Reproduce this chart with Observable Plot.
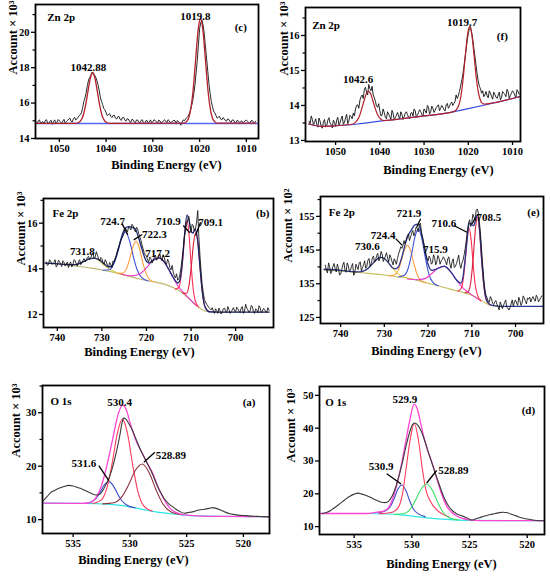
<!DOCTYPE html>
<html><head><meta charset="utf-8">
<script src="https://cdn.jsdelivr.net/npm/d3@7"></script>
<script src="https://cdn.jsdelivr.net/npm/@observablehq/plot@0.6"></script>
<style>
body{margin:0;background:#fff;}
#fig{position:relative;width:550px;height:576px;overflow:hidden;background:#fff;}
#fig svg{position:absolute;}
</style></head><body><div id="fig"></div>
<script>
// ---------- tick values ----------
const xTicksZn = [1050,1040,1030,1020,1010];
const xTicksFe = [740,730,720,710,700];
const xTicksO = [535,530,525,520];
const yTicksC = [14,16,18,20], yMinorC = [15,17,19,21];
const yTicksF = [13,14,15,16], yMinorF = [13.5,14.5,15.5,16.5];
const yTicksB = [12,14,16], yMinorB = [13,15,17];
const yTicksE = [125,135,145,155], yMinorE = [130,140,150,160];
const yTicksA = [10,20,30], yMinorA = [15,25,35];
const yTicksD = [10,20,30,40,50];

// ---------- panel (c) Zn 2p ----------
const znC_E = [1055,1054.5,1054,1053.5,1053,1052.5,1052,1051.5,1051,1050.5,1050,1049.5,1049,1048.5,1048,1047.5,1047,1046.5,1046,1045.5,1045,1044.5,1044,1043.5,1043,1042.5,1042,1041.5,1041,1040.5,1040,1039.5,1039,1038.5,1038,1037.5,1037,1036.5,1036,1035.5,1035,1034.5,1034,1033.5,1033,1032.5,1032,1031.5,1031,1030.5,1030,1029.5,1029,1028.5,1028,1027.5,1027,1026.5,1026,1025.5,1025,1024.5,1024,1023.5,1023,1022.5,1022,1021.5,1021,1020.5,1020,1019.5,1019,1018.5,1018,1017.5,1017,1016.5,1016,1015.5,1015,1014.5,1014,1013.5,1013,1012.5,1012,1011.5,1011,1010.5,1010,1009.5,1009,1008.5,1008];
const znC_I = [14.90,15.00,14.85,14.95,15.02,14.88,14.98,14.80,15.05,14.92,15.00,14.85,15.08,14.95,15.10,14.98,15.12,15.05,15.20,15.35,15.75,16.30,17.00,17.45,17.75,17.60,17.30,16.75,16.10,15.70,15.45,15.35,15.25,15.30,15.15,15.22,15.08,15.18,15.05,15.12,14.98,15.08,14.95,15.05,14.92,15.02,14.90,15.00,14.88,15.05,14.95,15.02,14.88,15.00,14.92,15.06,14.90,15.00,14.94,15.03,14.85,14.95,14.75,15.05,15.10,15.25,15.55,16.10,17.00,18.40,20.20,20.70,19.90,18.50,17.10,16.10,15.55,15.30,15.20,15.10,15.18,15.02,15.10,14.96,15.05,14.92,15.02,14.90,15.00,14.95,15.04,14.90,15.00,14.92,14.98];
const znCm_E = [1054.75,1054.25,1053.75,1053.25,1052.75,1052.25,1051.75,1051.25,1050.75,1050.25,
  1049.75,1049.25,1048.75,1048.25,1047.75,1047.25,1046.75,1046.25,1045.75,1045.25,
  1044.75,1044.25,1043.75,1043.25,1042.75,1042.25,1041.75,1041.25,1040.75,1040.25,
  1039.75,1039.25,1038.75,1038.25,1037.75,1037.25,1036.75,1036.25,1035.75,1035.25,
  1034.75,1034.25,1033.75,1033.25,1032.75,1032.25,1031.75,1031.25,1030.75,1030.25,
  1029.75,1029.25,1028.75,1028.25,1027.75,1027.25,1026.75,1026.25,1025.75,1025.25,
  1024.75,1024.25,1023.75,1023.25,1022.75,1022.25,1021.75,1021.25,1020.75,1020.25,
  1019.75,1019.25,1018.75,1018.25,1017.75,1017.25,1016.75,1016.25,1015.75,1015.25,
  1014.75,1014.25,1013.75,1013.25,1012.75,1012.25,1011.75,1011.25,1010.75,1010.25,
  1009.75,1009.25,1008.75,1008.25];
const znCm_I = [14.82,15.05,14.92,14.84,15.06,14.86,15.03,14.95,14.86,15.07,
  14.94,14.98,14.86,15.02,15.15,14.92,15.20,15.10,15.30,15.48,
  16.10,16.62,17.30,17.58,17.72,17.48,17.05,16.35,15.92,15.62,
  15.30,15.40,15.18,15.32,15.10,15.25,15.02,15.20,14.98,15.10,
  14.90,15.06,14.88,15.04,14.86,15.06,14.84,15.02,14.94,14.88,
  15.06,14.96,15.04,14.86,15.00,14.98,15.06,14.88,14.98,15.00,
  15.02,14.90,14.92,15.00,15.18,15.38,15.80,16.50,17.70,19.30,
  20.55,20.40,19.20,17.80,16.55,15.80,15.45,15.15,15.25,15.05,
  15.12,14.98,15.08,14.92,15.04,14.88,15.00,14.95,14.88,15.00,
  14.97,14.86,15.02,14.90];
const znCfit_E = [1055,1046.38,1045.88,1045.38,1044.88,1044.38,1043.88,1043.38,1042.88,1042.38,1041.88,1041.38,1040.88,1040.38,1039.88,1039.38,1023.3,1022.8,1022.3,1021.8,1021.3,1020.8,1020.3,1019.8,1019.3,1018.8,1018.3,1017.8,1017.3,1016.8,1016.3,1008];
const znCfit_I = [14.86,14.86,14.90,15.02,15.31,15.88,16.66,17.40,17.70,17.40,16.66,15.88,15.31,15.02,14.90,14.86,14.87,14.95,15.19,15.81,16.98,18.62,20.15,20.78,20.15,18.62,16.98,15.81,15.19,14.95,14.87,14.87];
const znCbase_E = [1055.1,1007.6];
const znCbase_I = [14.85,14.85];
const annC_text = ["Zn 2p","(c)","1042.88","1019.8"];
const annC_E = [1052.6,1011.2,1043.8,1020.9];
const annC_V = [20.86,20.29,18.0,20.9];

// ---------- panel (f) Zn 2p ----------
const znF_E = [1056,1055.5,1055,1054.5,1054,1053.5,1053,1052.5,1052,1051.5,1051,1050.5,1050,1049.5,1049,1048.5,1048,1047.5,1047,1046.5,1046,1045.5,1045,1044.5,1044,1043.5,1043,1042.5,1042,1041.5,1041,1040.5,1040,1039.5,1039,1038.5,1038,1037.5,1037,1036.5,1036,1035.5,1035,1034.5,1034,1033.5,1033,1032.5,1032,1031.5,1031,1030.5,1030,1029.5,1029,1028.5,1028,1027.5,1027,1026.5,1026,1025.5,1025,1024.5,1024,1023.5,1023,1022.5,1022,1021.5,1021,1020.5,1020,1019.5,1019,1018.5,1018,1017.5,1017,1016.5,1016,1015.5,1015,1014.5,1014,1013.5,1013,1012.5,1012,1011.5,1011,1010.5,1010,1009.5,1009,1008.5];
const znF_I = [13.55,13.70,13.45,13.62,13.38,13.55,13.35,13.60,13.42,13.65,13.45,13.58,13.40,13.66,13.50,13.70,13.52,13.75,13.55,13.68,13.78,13.90,14.02,14.15,14.30,14.45,14.38,14.60,14.42,14.30,14.12,13.95,13.85,13.72,13.80,13.62,13.75,13.60,13.78,13.65,13.80,13.62,13.74,13.68,13.82,13.66,13.78,13.70,13.85,13.72,13.88,13.75,13.90,13.78,13.95,13.82,13.92,13.86,13.98,13.85,14.00,13.88,14.02,13.92,14.05,14.00,14.12,14.20,14.40,14.70,15.10,15.60,16.05,16.25,15.90,15.40,14.90,14.55,14.35,14.25,14.40,14.22,14.35,14.18,14.32,14.20,14.38,14.22,14.35,14.25,14.40,14.28,14.42,14.30,14.45,14.32];
const znFm_E = [1055.75,1055.25,1054.75,1054.25,1053.75,1053.25,1052.75,1052.25,1051.75,1051.25,
  1050.75,1050.25,1049.75,1049.25,1048.75,1048.25,1047.75,1047.25,1046.75,1046.25,
  1045.75,1045.25,1044.75,1044.25,1043.75,1043.25,1042.75,1042.25,1041.75,1041.25,
  1040.75,1040.25,1039.75,1039.25,1038.75,1038.25,1037.75,1037.25,1036.75,1036.25,
  1035.75,1035.25,1034.75,1034.25,1033.75,1033.25,1032.75,1032.25,1031.75,1031.25,
  1030.75,1030.25,1029.75,1029.25,1028.75,1028.25,1027.75,1027.25,1026.75,1026.25,
  1025.75,1025.25,1024.75,1024.25,1023.75,1023.25,1022.75,1022.25,1021.75,1021.25,
  1020.75,1020.25,1019.75,1019.25,1018.75,1018.25,1017.75,1017.25,1016.75,1016.25,
  1015.75,1015.25,1014.75,1014.25,1013.75,1013.25,1012.75,1012.25,1011.75,1011.25,
  1010.75,1010.25,1009.75,1009.25,1008.75];
const znFm_I = [13.48,13.60,13.52,13.46,13.64,13.40,13.52,13.38,13.58,13.50,
  13.36,13.52,13.58,13.44,13.62,13.46,13.64,13.48,13.72,13.62,
  13.70,14.00,13.92,14.25,14.20,14.52,14.30,14.48,14.55,14.22,
  13.98,14.05,13.70,13.90,13.66,13.82,13.68,13.86,13.58,13.72,
  13.70,13.82,13.60,13.78,13.74,13.62,13.80,13.90,13.66,13.80,
  13.82,13.70,13.85,14.00,13.76,13.98,13.80,13.94,14.02,13.92,
  13.95,13.84,14.06,13.98,14.10,14.06,14.30,14.28,14.55,14.88,
  15.35,15.85,16.20,16.10,15.65,15.15,14.70,14.48,14.42,14.30,
  14.28,14.42,14.26,14.38,14.24,14.30,14.16,14.40,14.32,14.46,
  14.20,14.35,14.38,14.22,14.40];
const znFfit_E = [1056.1,1053,1050,1046.1,1045.6,1045.1,1044.6,1044.1,1043.6,1043.1,1042.6,1042.1,1041.6,1041.1,1040.6,1040.1,1039.6,1039.1,1035,1030,1025,1023.2,1022.7,1022.2,1021.7,1021.2,1020.7,1020.2,1019.7,1019.2,1018.7,1018.2,1017.7,1017.2,1016.7,1016.2,1015,1010,1008.2];
const znFfit_I = [13.47,13.40,13.42,13.47,13.51,13.58,13.70,13.90,14.12,14.32,14.40,14.34,14.15,13.94,13.76,13.65,13.59,13.57,13.62,13.70,13.78,13.83,13.88,13.99,14.24,14.72,15.38,16.00,16.26,16.02,15.44,14.80,14.36,14.13,14.05,14.04,14.06,14.20,14.26];
const znFbase_E = [1056.1,1053,1050,1045,1040,1035,1030,1025,1020,1015,1010,1008.2];
const znFbase_I = [13.47,13.40,13.42,13.47,13.55,13.62,13.70,13.78,13.91,14.05,14.20,14.26];
const annF_text = ["Zn 2p","(f)","1042.6","1019.7"];
const annF_E = [1055.3,1012.3,1044.9,1021.4];
const annF_V = [16.29,15.97,14.73,16.38];

// ---------- panel (b) Fe 2p ----------
const feB_E = [742.5,742,741.5,741,740.5,740,739.5,739,738.5,738,737.5,737,736.5,736,735.5,735,734.5,734,733.5,733,732.5,732,731.5,731,730.5,730,729.5,729,728.5,728,727.5,727,726.5,726,725.5,725,724.5,724,723.5,723,722.5,722,721.5,721,720.5,720,719.5,719,718.5,718,717.5,717,716.5,716,715.5,715,714.5,714,713.5,713,712.5,712,711.5,711,710.5,710,709.5,709,708.5,708,707.5,707,706.5,706,705.5,705,704.5,704,703.5,703,702.5,702,701.5,701,700.5,700,699.5,699,698.5,698,697.5,697,696.5,696,695.5,695,694.5,694,693.5,693,692.5];
const feB_I = [14.30,14.18,14.35,14.22,14.40,14.15,14.32,14.10,14.28,14.20,14.05,14.30,14.18,14.35,14.12,14.40,14.25,14.45,14.38,14.55,14.48,14.70,14.52,14.60,14.35,14.45,14.20,14.30,14.10,14.18,14.35,14.48,14.80,15.10,15.35,15.60,15.72,15.85,15.70,15.88,15.62,15.75,15.40,15.05,14.70,14.55,14.30,14.45,14.35,14.60,14.42,14.65,14.35,14.50,14.20,14.30,13.95,13.85,13.60,13.50,13.75,14.45,15.40,15.95,16.30,15.60,15.90,15.75,16.55,14.60,13.30,12.65,12.45,12.30,12.20,12.15,12.25,12.05,12.18,12.10,12.28,12.08,12.22,12.12,12.30,12.10,12.25,12.08,12.35,12.15,12.28,12.10,12.40,12.12,12.25,12.08,12.30,12.15,12.22,12.10,12.18];
const feBm_E = [742.25,741.75,741.25,740.75,740.25,739.75,739.25,738.75,738.25,737.75,
  737.25,736.75,736.25,735.75,735.25,734.75,734.25,733.75,733.25,732.75,
  732.25,731.75,731.25,730.75,730.25,729.75,729.25,728.75,728.25,727.75,
  727.25,726.75,726.25,725.75,725.25,724.75,724.25,723.75,723.25,722.75,
  722.25,721.75,721.25,720.75,720.25,719.75,719.25,718.75,718.25,717.75,
  717.25,716.75,716.25,715.75,715.25,714.75,714.25,713.75,713.25,712.75,
  712.25,711.75,711.25,710.75,710.25,709.75,709.25,708.75,708.25,707.75,
  707.25,706.75,706.25,705.75,705.25,704.75,704.25,703.75,703.25,702.75,
  702.25,701.75,701.25,700.75,700.25,699.75,699.25,698.75,698.25,697.75,
  697.25,696.75,696.25,695.75,695.25,694.75,694.25,693.75,693.25,692.75];
const feBm_I = [14.15,14.40,14.20,14.28,14.08,14.38,14.20,14.35,14.12,14.30,
  14.22,14.08,14.40,14.22,14.30,14.18,14.36,14.30,14.50,14.40,
  14.62,14.45,14.75,14.45,14.50,14.28,14.40,14.15,14.28,14.05,
  14.30,14.60,14.95,15.28,15.45,15.80,15.62,15.78,15.95,15.72,
  15.82,15.55,15.25,14.88,14.62,14.40,14.52,14.25,14.50,14.38,
  14.55,14.48,14.62,14.25,14.42,14.05,14.15,13.70,13.78,13.55,
  14.05,14.85,15.70,16.15,15.90,15.95,15.65,16.05,15.40,13.90,
  12.95,12.55,12.38,12.25,12.30,12.05,12.18,12.28,12.02,12.25,
  12.15,12.35,12.05,12.20,12.18,12.32,12.15,12.28,12.05,12.45,
  12.20,12.15,12.35,12.05,12.20,12.38,12.08,12.26,12.12,12.30];
const feBbg_E = [742.7,740,738,736,734,732,730,728,726,724,722,720,718,716,714,712,711,710,709,708,707,706,704,692.5];
const feBbg_I = [14.26,14.22,14.18,14.13,14.08,14.02,13.95,13.87,13.78,13.68,13.58,13.49,13.42,13.33,13.18,12.95,12.78,12.60,12.42,12.27,12.16,12.12,12.10,12.10];
const feBenv_E = [742.7,740,738,736,734.5,733,731.8,730.5,729.5,728.5,727.8,727,726.2,725.5,724.8,724,723.2,722.5,721.8,721,720.2,719.4,718.5,717.2,716,715,714,713,712.5,712,711.5,710.9,710.45,710,709.55,709.1,708.5,708,707.5,707,706.5,706,704,692.5];
const feBenv_I = [14.25,14.22,14.19,14.18,14.28,14.42,14.47,14.38,14.22,14.08,14.12,14.42,14.95,15.45,15.78,15.85,15.82,15.74,15.38,14.85,14.40,14.25,14.38,14.48,14.30,13.97,13.62,13.38,13.50,14.19,15.39,16.35,16.12,15.64,15.57,15.74,15.21,14.10,13.04,12.42,12.20,12.12,12.10,12.10];
const feB731_E = [738.8,736.8,735.4,734.2,733.0,731.8,730.6,729.4,728.2,726.8,724.8];
const feB731_I = [14.20,14.17,14.20,14.30,14.43,14.46,14.35,14.14,13.97,13.84,13.72];
const feB724_E = [729.78,728.33,727.31,726.44,725.57,724.7,723.83,722.96,722.09,721.07,719.62];
const feB724_I = [13.94,13.96,14.22,14.73,15.34,15.61,15.25,14.55,13.96,13.61,13.47];
const feB722_E = [726.5,725.3,724.46,723.74,723.02,722.3,721.58,720.86,720.14,719.3,718.1];
const feB722_I = [13.80,13.81,14.02,14.45,14.97,15.20,14.90,14.31,13.82,13.53,13.42];
const feB717_E = [725.6,723.2,721.52,720.08,718.64,717.2,715.76,714.32,712.88,711.2,708.8];
const feB717_I = [13.76,13.69,13.78,14.03,14.36,14.48,14.23,13.74,13.23,12.86,12.39];
const feB710_E = [713.53,712.78,712.25,711.8,711.35,710.9,710.45,710.0,709.55,709.03,708.28];
const feB710_I = [13.11,13.17,13.64,14.54,15.64,16.11,15.48,14.23,13.18,12.58,12.32];
const feB709_E = [711.88,711.03,710.43,709.92,709.41,708.9,708.39,707.88,707.37,706.77,705.92];
const feB709_I = [12.94,12.93,13.31,14.15,15.17,15.61,15.00,13.82,12.82,12.29,12.13];
const annB_text = ["Fe 2p","(b)","731.8","724.7","722.3","717.2","710.9","709.1"];
const annB_E = [741.1,693.9,734.4,727.6,718.2,717.5,715.06,705.6];
const annB_V = [16.42,16.42,14.76,16.07,15.5,14.67,16.07,16.03];
const leadB_x1 = [725.46,720.97,711.75,707.87], leadB_y1 = [15.97,15.5,15.9,16.04];
const leadB_x2 = [724.2,722.85,710.27,708.99], leadB_y2 = [15.5,15.27,15.58,15.46];

// ---------- panel (e) Fe 2p ----------
const feE_E = [743.5,743,742.5,742,741.5,741,740.5,740,739.5,739,738.5,738,737.5,737,736.5,736,735.5,735,734.5,734,733.5,733,732.5,732,731.5,731,730.5,730,729.5,729,728.5,728,727.5,727,726.5,726,725.5,725,724.5,724,723.5,723,722.5,722,721.5,721,720.5,720,719.5,719,718.5,718,717.5,717,716.5,716,715.5,715,714.5,714,713.5,713,712.5,712,711.5,711,710.5,710,709.5,709,708.5,708,707.5,707,706.5,706,705.5,705,704.5,704,703.5,703,702.5,702,701.5,701,700.5,700,699.5,699,698.5,698,697.5,697,696.5,696,695.5,695,694.5,694];
const feE_I = [140.5,138.2,140.0,138.8,141.0,138.5,139.8,137.8,140.6,139.0,141.2,138.6,140.2,137.5,140.8,139.2,141.5,139.8,141.8,140.2,142.5,141.0,143.2,142.0,144.0,142.6,143.8,142.4,144.2,141.5,142.8,140.6,141.8,142.5,144.8,145.5,147.8,148.2,149.8,148.9,150.8,150.2,151.5,152.3,150.0,147.2,144.0,141.8,142.5,141.2,142.8,141.5,142.6,141.8,143.0,141.6,142.4,140.8,141.6,139.8,141.0,143.5,139.6,142.0,145.5,151.0,154.0,153.2,154.8,156.8,156.0,149.5,140.5,133.2,130.8,129.5,130.6,128.8,130.0,128.2,129.6,127.6,129.4,128.0,127.2,129.0,128.4,130.2,128.6,130.0,129.2,130.8,129.0,130.4,129.6,131.2,129.8,131.0,130.2,131.4];
const feEm_E = [743.25,742.75,742.25,741.75,741.25,740.75,740.25,739.75,739.25,738.75,
  738.25,737.75,737.25,736.75,736.25,735.75,735.25,734.75,734.25,733.75,
  733.25,732.75,732.25,731.75,731.25,730.75,730.25,729.75,729.25,728.75,
  728.25,727.75,727.25,726.75,726.25,725.75,725.25,724.75,724.25,723.75,
  723.25,722.75,722.25,721.75,721.25,720.75,720.25,719.75,719.25,718.75,
  718.25,717.75,717.25,716.75,716.25,715.75,715.25,714.75,714.25,713.75,
  713.25,712.75,712.25,711.75,711.25,710.75,710.25,709.75,709.25,708.75,
  708.25,707.75,707.25,706.75,706.25,705.75,705.25,704.75,704.25,703.75,
  703.25,702.75,702.25,701.75,701.25,700.75,700.25,699.75,699.25,698.75,
  698.25,697.75,697.25,696.75,696.25,695.75,695.25,694.75,694.25];
const feEm_I = [139.0,141.2,138.0,140.2,139.5,140.8,137.6,139.2,141.4,138.4,
  140.4,139.0,141.0,138.2,140.0,141.2,138.8,140.6,139.6,142.0,
  140.2,142.6,141.4,143.4,141.8,144.6,141.6,143.2,142.6,143.6,
  141.6,142.4,140.8,143.8,146.0,146.4,146.8,149.2,147.8,150.0,
  149.2,151.8,150.4,153.0,148.6,145.8,142.6,143.2,140.8,143.6,
  140.6,143.4,140.8,142.2,142.4,140.6,143.0,139.6,142.4,140.2,
  142.2,140.8,141.2,143.6,148.0,153.0,152.0,155.6,153.8,157.2,
  153.2,145.0,136.2,131.5,129.8,131.2,129.2,129.6,128.9,127.2,
  128.8,128.6,130.2,127.8,128.0,130.2,129.6,129.2,131.0,128.6,
  131.4,129.8,130.8,131.0,130.6,130.4,131.6,129.6,130.8];
const feEbg_E = [743.8,740,736.6,733,730,727,724,721,718,715,712,710,708.5,707,706,705,703];
const feEbg_I = [139.0,138.8,138.4,138.0,137.6,137.1,136.5,135.5,134.5,133.4,132.4,131.6,130.6,129.4,128.7,128.4,128.2];
const feEenv_E = [743.8,740,737.5,736,735,734,733,732,731,730,729,728.2,727.5,726.8,726,725.2,724.5,723.8,723,722.2,721.4,720.6,720,719.2,718,716.3,714.5,713.5,712.5,712,711.5,711,710.6,710.1,709.6,709.2,708.7,708.2,707.7,707.2,706.7,706,705,703,693.8];
const feEenv_I = [139.3,139.0,138.6,138.5,138.7,139.3,140.5,141.9,142.8,142.5,141.1,139.8,139.4,140.0,142.9,146.9,149.5,151.0,152.5,152.7,149.4,143.9,140.8,139.0,139.4,140.2,138.0,136.1,135.2,137.1,142.6,149.0,152.9,152.7,152.2,153.6,155.5,151.0,141.8,134.5,130.4,129.0,128.5,128.3,128.3];
const feE730_E = [737.6,735.6,734.2,733.0,731.8,730.6,729.4,728.2,727.0,725.6,723.6];
const feE730_I = [138.5,138.5,139.1,140.5,142.1,142.8,141.7,139.7,138.1,137.0,136.4];
const feE724_E = [728.9,727.7,726.86,726.14,725.42,724.7,723.98,723.26,722.54,721.7,720.5];
const feE724_I = [137.3,137.6,138.9,141.7,145.0,146.4,144.7,141.1,137.9,136.1,135.3];
const feE721_E = [726.75,725.45,724.54,723.76,722.98,722.2,721.42,720.64,719.86,718.95,717.65];
const feE721_I = [137.0,137.5,139.6,143.9,149.0,151.3,148.4,142.8,138.1,135.5,134.4];
const feE715_E = [724.7,722.3,720.62,719.18,717.74,716.3,714.86,713.42,711.98,710.3,707.9];
const feE715_I = [136.4,136.2,136.6,138.0,139.7,140.2,138.7,136.0,133.7,132.0,129.9];
const feE710_E = [713.23,712.48,711.95,711.5,711.05,710.6,710.15,709.7,709.25,708.73,707.98];
const feE710_I = [132.8,133.5,136.3,141.8,148.5,151.5,148.1,141.0,135.0,131.7,130.0];
const feE708_E = [711.5,710.7,710.14,709.66,709.18,708.7,708.22,707.74,707.26,706.7,705.9];
const feE708_I = [132.3,132.9,136.4,143.0,151.1,154.8,150.4,141.6,134.4,130.2,128.8];
const annE_text = ["Fe 2p","(e)","721.9","724.4","730.6","715.9","710.6","708.5"];
const annE_E = [742.7,695.9,724.4,730.25,733.9,718.3,716.4,706.1];
const annE_V = [156.3,156.3,155.8,149.4,146.1,145.2,153.0,154.8];
const leadE_x1 = [721.7,727.4,714.1,709.2], leadE_y1 = [154.3,148.4,152.3,154.6];
const leadE_x2 = [722.6,725.9,711.1,709.9], leadE_y2 = [151.8,146.4,150.3,152.8];

// ---------- panel (a) O 1s ----------
const oA_E = [537.7,537.3,537.0,536.6,536.2,535.8,535.4,535.0,534.6,534.2,533.8,533.4,533.0,532.7,532.4,532.1,531.8,531.5,531.2,530.9,530.7,530.55,530.35,530.1,529.8,529.5,529.1,528.7,528.4,528.0,527.6,527.3,527.0,526.6,526.1,525.6,525.2,524.9,524.4,523.9,523.4,523.0,522.7,522.4,522.0,521.6,521.2,520.8,520.3,519.8,519.3,518.8,518.3,517.7];
const oA_I = [13.4,14.3,15.0,15.5,15.9,16.2,16.4,16.3,16.0,15.7,15.3,14.9,14.6,14.7,15.4,16.6,18.0,20.0,22.6,25.6,28.0,29.0,28.8,28.0,26.8,25.3,23.2,21.5,20.2,18.5,16.4,15.1,14.0,13.0,12.2,11.5,11.2,11.3,11.5,11.8,11.95,12.1,12.25,12.1,11.8,11.4,11.1,10.95,10.8,10.75,10.65,10.6,10.55,10.5];
const oAbg_E = [537.7,534.4,533,532,531,530,529,528,527,526,525,524,522,517.7];
const oAbg_I = [13.1,13.02,12.98,12.9,12.7,12.4,11.95,11.55,11.25,11.0,10.8,10.7,10.6,10.55];
const oA531_E = [534.17,533.51,533.05,532.65,532.26,531.86,531.46,531.07,530.67,530.21,529.55];
const oA531_I = [13.02,13.19,13.82,15.01,16.45,17.10,16.32,14.77,13.44,12.65,12.21];
const oA530_E = [533.28,532.53,532.0,531.55,531.1,530.65,530.2,529.75,529.3,528.78,528.03];
const oA530_I = [13.02,13.65,16.11,20.7,26.25,28.8,25.99,20.18,15.3,12.57,11.59];
const oA528_E = [532.4,531.4,530.7,530.1,529.5,528.9,528.3,527.7,527.1,526.4,525.4];
const oA528_I = [12.95,13.15,14.29,16.57,19.28,20.41,18.77,15.6,12.96,11.47,10.9];
const oAenv_E = [537.7,535,534,533.5,533,532.5,532,531.5,531,530.65,530.3,530,529.5,529,528.5,528,527.5,527,526.5,526,525,522,517.7];
const oAenv_I = [13.1,13.04,13.03,13.19,14.05,16.36,20.32,25.26,29.98,31.43,30.47,28.25,25.0,22.8,20.7,18.7,16.0,13.8,12.2,11.4,10.85,10.6,10.55];
const annA_text = ["O 1s","(a)","530.4","531.6","528.89"];
const annA_E = [537.0,519.5,530.9,534.06,526.4];
const annA_V = [32.2,32.0,32.0,20.43,22.0];
const leadA_x1 = [532.74,527.8], leadA_y1 = [20.1,22.6];
const leadA_x2 = [531.86,528.77], leadA_y2 = [17.3,20.73];

// ---------- panel (d) O 1s ----------
const oD_E = [537.8,537.4,537.0,536.6,536.2,535.8,535.4,535.0,534.7,534.3,533.9,533.5,533.1,532.7,532.3,532.0,531.7,531.4,531.1,530.8,530.5,530.2,529.95,529.75,529.5,529.2,528.9,528.6,528.3,528.0,527.6,527.2,526.8,526.4,526.0,525.6,525.2,524.8,524.5,524.0,523.5,523.0,522.5,522.1,521.7,521.3,520.9,520.5,520.0,519.5,519.0,518.6];
const oD_I = [14.0,14.3,15.0,16.0,17.1,18.2,19.2,19.9,20.2,19.9,19.4,18.8,18.1,17.5,17.3,17.8,19.3,22.0,25.6,29.8,34.5,38.6,41.0,41.6,41.0,39.2,36.4,33.0,29.8,26.6,22.6,18.8,16.2,14.6,13.7,13.2,12.6,12.0,12.3,12.9,13.4,13.8,14.2,14.4,14.2,13.7,13.2,12.7,12.3,12.0,11.8,11.8];
const oDbg_E = [538,534,532,531,530,529,528,527,526,525,518.5];
const oDbg_I = [14.0,14.0,13.85,13.6,13.2,12.8,12.45,12.2,12.0,11.9,11.8];
const oD530_E = [532.9,532.32,531.91,531.57,531.22,530.87,530.52,530.17,529.83,529.42,528.84];
const oD530_I = [14.2,14.75,15.9,18.18,21.29,22.7,21.05,17.73,15.2,13.87,13.04];
const oD529_E = [532.78,531.78,531.18,530.78,530.5,530.13,529.78,529.43,529.06,528.78,528.38,527.78,526.78];
const oD529_I = [13.95,14.3,15.8,20.5,27.55,36.75,41.41,36.47,26.97,21.22,17.68,14.94,13.01];
const oD528_E = [531.51,530.71,530.15,529.67,529.19,528.71,528.23,527.75,527.27,526.71,525.91];
const oD528_I = [13.74,13.93,15.3,18.09,21.48,23.0,21.13,17.41,14.29,12.59,12.02];
const oDenv_E = [538,534,533,532.5,532,531.5,531,530.6,530.2,529.8,529.5,529.2,528.9,528.6,528.2,527.8,527.4,527,526.5,526,525.5,525,524,518.5];
const oDenv_I = [14.0,14.0,14.4,14.66,15.85,20.2,27.2,34.5,41.9,47.3,45.6,41.0,36.5,33.0,29.0,24.2,19.8,16.4,14.2,13.0,12.4,12.05,11.85,11.8];
const annD_text = ["O 1s","(d)","529.9","530.9","528.89"];
const annD_E = [537.5,519.9,530.6,532.66,526.4];
const annD_V = [47.8,45.4,48.7,28.3,27.1];
const leadD_x1 = [532.17,527.85], leadD_y1 = [26.1,27.1];
const leadD_x2 = [530.93,528.71], leadD_y2 = [23.0,23.3];

// ---------- drawing ----------
const FONT = "'Liberation Serif', 'Times New Roman', serif";
const TXT = {fontFamily: FONT, fontWeight: "bold", fill: "#000"};

function panel(p) {
  const m = [];
  for (const l of p.lines) {
    const pts = l.E.map((e, i) => ({e, v: l.I[i]}));
    if (l.Em) l.Em.forEach((e, i) => pts.push({e, v: l.Im[i]}));
    pts.sort((a, b) => b.e - a.e);
    m.push(Plot.line(pts, {
      x: "e", y: "v", stroke: l.c, strokeWidth: l.w || 1,
      curve: l.curve || "monotone-x", clip: true
    }));
  }
  m.push(Plot.frame({stroke: "#000", strokeWidth: 1.8}));
  m.push(Plot.axisX({ticks: p.xt, tickFormat: d => String(d), tickSize: 4, tickPadding: 2, strokeWidth: 1.3, fontSize: 10.5, fontWeight: "bold", fontFamily: FONT, label: null}));
  m.push(Plot.axisY({ticks: p.yt, tickFormat: d => String(d), tickSize: 4, tickPadding: 2, strokeWidth: 1.3, fontSize: 10.5, fontWeight: "bold", fontFamily: FONT, label: null}));
  if (p.ym) m.push(Plot.axisY({ticks: p.ym, tickSize: 2.5, strokeWidth: 1.2, tickFormat: () => "", label: null}));
  if (p.lead) {
    const L = p.lead;
    m.push(Plot.link(L.x1.map((_, i) => i), {
      x1: i => L.x1[i], y1: i => L.y1[i], x2: i => L.x2[i], y2: i => L.y2[i],
      stroke: "#000", strokeWidth: 1.3
    }));
  }
  const A = p.ann, idx = A.text.map((_, i) => i);
  m.push(Plot.text(idx.slice(0, 1), {x: i => A.E[i], y: i => A.V[i], text: i => A.text[i], textAnchor: "start", fontSize: 11, ...TXT}));
  m.push(Plot.text(idx.slice(1), {x: i => A.E[i], y: i => A.V[i], text: i => A.text[i], textAnchor: "middle", fontSize: 11, ...TXT}));
  m.push(Plot.text(["Binding Energy (eV)"], {frameAnchor: "bottom", dx: p.xl[0], dy: p.xl[1], text: d => d, fontSize: 12.5, ...TXT}));
  m.push(Plot.text([p.ylabel], {frameAnchor: "left", dx: p.yl[0], dy: p.yl[1], rotate: -90, text: d => d, fontSize: 12.5, ...TXT}));
  const svg = Plot.plot({
    width: p.w, height: p.h,
    marginLeft: p.mg[0], marginRight: p.mg[1], marginTop: p.mg[2], marginBottom: p.mg[3],
    x: {domain: p.xd, label: null}, y: {domain: p.yd, label: null},
    style: {fontFamily: FONT, fontWeight: "bold", fontSize: "10.5px", background: "transparent", overflow: "visible"},
    marks: m
  });
  svg.style.left = p.pos[0] + "px";
  svg.style.top = p.pos[1] + "px";
  document.getElementById("fig").appendChild(svg);
}

panel({pos: [0, 0], w: 275, h: 180, mg: [35, 17, 4, 42], xd: [1055.1, 1007.4], yd: [14, 21.57],
  xt: xTicksZn, yt: yTicksC, ym: yMinorC, xl: [19.5, 30], yl: [-23, 3], ylabel: "Account × 10³",
  lines: [
    {E: znC_E, I: znC_I, Em: znCm_E, Im: znCm_I, c: "#111", w: 0.9, curve: "linear"},
    {E: znCbase_E, I: znCbase_I, c: "#5566ee", w: 1.6, curve: "linear"},
    {E: znCfit_E, I: znCfit_I, c: "#b3202a", w: 1.3}
  ],
  ann: {text: annC_text, E: annC_E, V: annC_V}});

panel({pos: [275, 0], w: 275, h: 180, mg: [30, 30, 7, 39], xd: [1056.8, 1008.2], yd: [12.97, 16.8],
  xt: xTicksZn, yt: yTicksF, ym: yMinorF, xl: [25.5, 32], yl: [-22, 1], ylabel: "Account × 10³",
  lines: [
    {E: znF_E, I: znF_I, Em: znFm_E, Im: znFm_I, c: "#111", w: 0.9, curve: "linear"},
    {E: znFbase_E, I: znFbase_I, c: "#3a4ee0", w: 1.2},
    {E: znFfit_E, I: znFfit_I, c: "#b3202a", w: 1.2}
  ],
  ann: {text: annF_text, E: annF_E, V: annF_V}});

panel({pos: [0, 180], w: 275, h: 190, mg: [43, 2, 18, 43], xd: [743.1, 691.5], yd: [11.43, 17.08],
  xt: xTicksFe, yt: yTicksB, ym: yMinorB, xl: [-19, 28], yl: [-23, 2.5], ylabel: "Account × 10³",
  lines: [
    {E: feBbg_E, I: feBbg_I, c: "#bdb86a", w: 1.1},
    {E: feB731_E, I: feB731_I, c: "#d6cc48", w: 1.1},
    {E: feB724_E, I: feB724_I, c: "#3f51d6", w: 1.1},
    {E: feB722_E, I: feB722_I, c: "#ff9c3c", w: 1.1},
    {E: feB717_E, I: feB717_I, c: "#ef38c8", w: 1.1},
    {E: feB710_E, I: feB710_I, c: "#ff2d55", w: 1.1},
    {E: feB709_E, I: feB709_I, c: "#d81e3c", w: 1.1},
    {E: feBenv_E, I: feBenv_I, c: "#1e2a78", w: 1.3},
    {E: feB_E, I: feB_I, Em: feBm_E, Im: feBm_I, c: "#111", w: 0.85, curve: "linear"}
  ],
  lead: {x1: leadB_x1, y1: leadB_y1, x2: leadB_x2, y2: leadB_y2},
  ann: {text: annB_text, E: annB_E, V: annB_V}});

panel({pos: [275, 180], w: 275, h: 190, mg: [45, 7, 16, 47], xd: [744.6, 693.6], yd: [123.2, 160.9],
  xt: xTicksFe, yt: yTicksE, ym: yMinorE, xl: [-5.5, 31], yl: [-33, 2.5], ylabel: "Account × 10²",
  lines: [
    {E: feEbg_E, I: feEbg_I, c: "#c4bc5c", w: 1.1},
    {E: feE730_E, I: feE730_I, c: "#ddd040", w: 1.1},
    {E: feE724_E, I: feE724_I, c: "#ff9c3c", w: 1.1},
    {E: feE721_E, I: feE721_I, c: "#3f51d6", w: 1.1},
    {E: feE715_E, I: feE715_I, c: "#ef38c8", w: 1.1},
    {E: feE710_E, I: feE710_I, c: "#ff2d55", w: 1.1},
    {E: feE708_E, I: feE708_I, c: "#d81e3c", w: 1.1},
    {E: feEenv_E, I: feEenv_I, c: "#2a3590", w: 1.3},
    {E: feE_E, I: feE_I, Em: feEm_E, Im: feEm_I, c: "#111", w: 0.85, curve: "linear"}
  ],
  lead: {x1: leadE_x1, y1: leadE_y1, x2: leadE_x2, y2: leadE_y2},
  ann: {text: annE_text, E: annE_E, V: annE_V}});

panel({pos: [0, 370], w: 275, h: 206, mg: [42, 6, 15, 43], xd: [537.7, 517.7], yd: [7.4, 35.1],
  xt: xTicksO, yt: yTicksA, ym: yMinorA, xl: [-22.5, 30], yl: [-27, -2], ylabel: "Account × 10³",
  lines: [
    {E: oAbg_E, I: oAbg_I, c: "#2ee6e6", w: 1.2},
    {E: oA531_E, I: oA531_I, c: "#3b4bc8", w: 1.1},
    {E: oA530_E, I: oA530_I, c: "#ff3b5c", w: 1.1},
    {E: oA528_E, I: oA528_I, c: "#8e2f3c", w: 1.1},
    {E: oAenv_E, I: oAenv_I, c: "#ff44d6", w: 1.3},
    {E: oA_E, I: oA_I, c: "#3a3a3a", w: 1.1}
  ],
  lead: {x1: leadA_x1, y1: leadA_y1, x2: leadA_x2, y2: leadA_y2},
  ann: {text: annA_text, E: annA_E, V: annA_V}});

panel({pos: [275, 370], w: 275, h: 206, mg: [44, 6, 16, 42], xd: [538, 518.5], yd: [7.6, 52.7],
  xt: xTicksO, yt: yTicksD, xl: [9.5, 33], yl: [-29, 2], ylabel: "Account × 10³",
  lines: [
    {E: oDbg_E, I: oDbg_I, c: "#2ee6e6", w: 1.2},
    {E: oD530_E, I: oD530_I, c: "#3b4bc8", w: 1.1},
    {E: oD529_E, I: oD529_I, c: "#ff3b5c", w: 1.1},
    {E: oD528_E, I: oD528_I, c: "#3de06a", w: 1.1},
    {E: oDenv_E, I: oDenv_I, c: "#ff44d6", w: 1.3},
    {E: oD_E, I: oD_I, c: "#3a3a3a", w: 1.1}
  ],
  lead: {x1: leadD_x1, y1: leadD_y1, x2: leadD_x2, y2: leadD_y2},
  ann: {text: annD_text, E: annD_E, V: annD_V}});
</script></body></html>
